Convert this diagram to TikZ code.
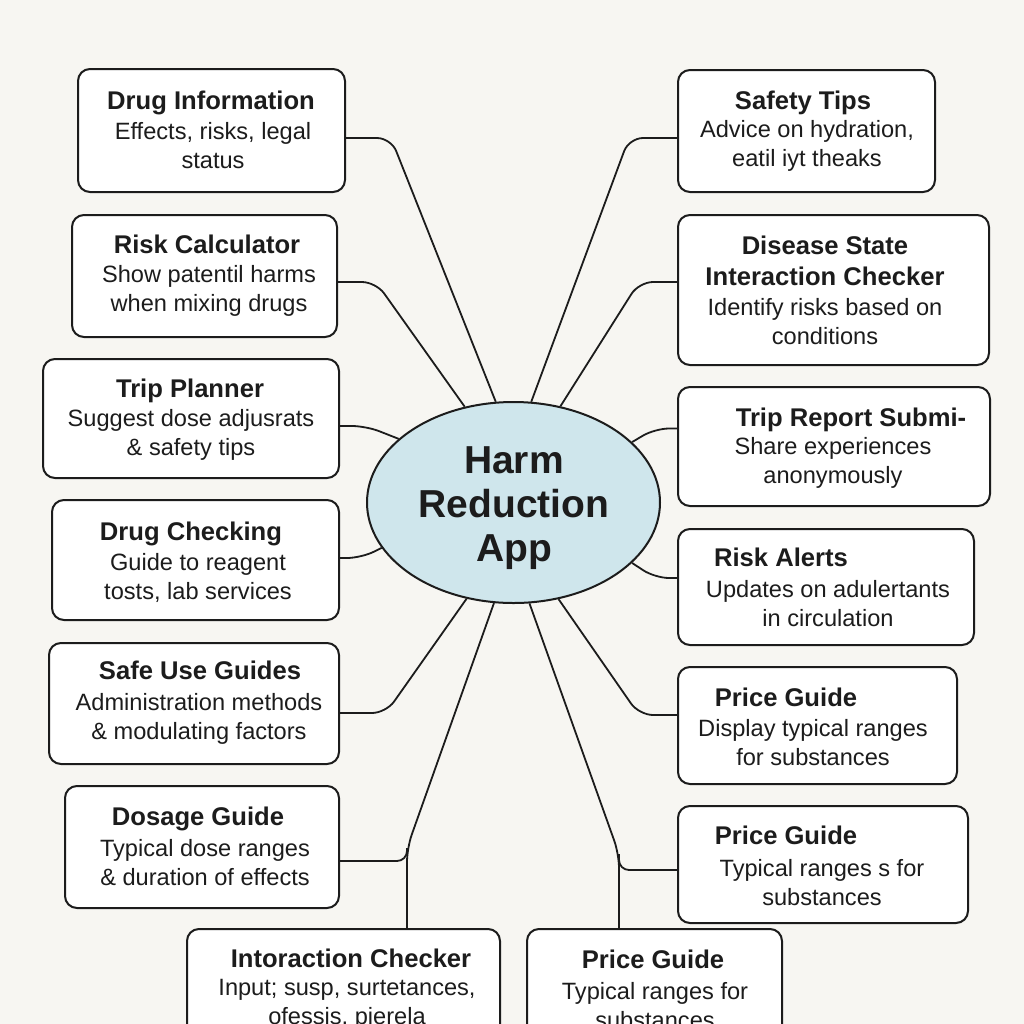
\documentclass[tikz,border=0pt]{standalone}
\usepackage{fontspec}
\setmainfont{Liberation Sans}
\usetikzlibrary{shapes.geometric,fit}
\definecolor{bg}{HTML}{F7F6F2}
\definecolor{ink}{HTML}{1C1C1C}
\definecolor{hubfill}{HTML}{CFE6EC}
\begin{document}
\begin{tikzpicture}[x=0.5pt,y=-0.5pt,
  box/.style={draw=ink, line width=1pt, fill=white, rounded corners=6pt, inner sep=0pt},
  ttl/.style={font=\bfseries\fontsize{12.8}{15.5}\selectfont, text=ink, inner sep=0pt, align=center, text depth=0pt},
  dsc/.style={font=\fontsize{11.8}{14.5}\selectfont, text=ink, align=center, inner sep=0pt},
  conn/.style={draw=ink, line width=0.9pt, rounded corners=7pt},
  hubnode/.style={ellipse, draw=ink, line width=1pt, fill=hubfill, minimum width=146.5pt, minimum height=100.5pt, inner sep=0pt},
  hubtext/.style={align=center, text=ink, inner sep=0pt, font=\bfseries\fontsize{19.5}{22}\selectfont}]
\fill[bg] (0,0) rectangle (1024,1024);
\useasboundingbox (0,0) rectangle (1024,1024);
\clip (0,0) rectangle (1024,1024);

% hub
\node[hubnode] (hub) at (513.5,502.5) {};
\node[hubtext] (hubt) at (514,508) {Harm\\Reduction\\App};

% left column boxes
\node[box, fit={(78,69) (345,192)}] (b1) {};
\node[box, fit={(72,215) (337,337)}] (b2) {};
\node[box, fit={(43,359) (339,478)}] (b3) {};
\node[box, fit={(52,500) (339,620)}] (b4) {};
\node[box, fit={(49,643) (339,764)}] (b5) {};
\node[box, fit={(65,786) (339,908)}] (b6) {};
\node[box, fit={(187,929) (500,1060)}] (b7) {};
\node[box, fit={(527,929) (782,1060)}] (b8) {};
% right column boxes
\node[box, fit={(678,70) (935,192)}] (b9) {};
\node[box, fit={(678,215) (989,365)}] (b10) {};
\node[box, fit={(678,387) (990,506)}] (b11) {};
\node[box, fit={(678,529) (974,645)}] (b12) {};
\node[box, fit={(678,667) (957,784)}] (b13) {};
\node[box, fit={(678,806) (968,923)}] (b14) {};

% texts
\node[ttl] (t1) at (211,100) {Drug Information};
\node[dsc] (d1) at (213,146) {Effects, risks, legal\\status};
\node[ttl] (t2) at (207,244) {Risk Calculator};
\node[dsc] (d2) at (209,290.5) {Show patentil harms\\when mixing drugs};
\node[ttl] (t3) at (190,388) {Trip Planner};
\node[dsc] (d3) at (191,434.5) {Suggest dose adjusrats\\\& safety tips};
\node[ttl] (t4) at (191,531) {Drug Checking};
\node[dsc] (d4) at (198,577.5) {Guide to reagent\\tosts, lab services};
\node[ttl] (t5) at (200,670) {Safe Use Guides};
\node[dsc] (d5) at (199,718.5) {Administration methods\\\& modulating factors};
\node[ttl] (t6) at (198,816) {Dosage Guide};
\node[dsc] (d6) at (205,863) {Typical dose ranges\\\& duration of effects};
\node[ttl] (t7) at (351,958) {Intoraction Checker};
\node[dsc] (d7) at (347,1004) {Input; susp, surtetances,\\ofessis, pjerela};
\node[ttl] (t8) at (653,959) {Price Guide};
\node[dsc] (d8) at (655,1006) {Typical ranges for\\substances};
\node[ttl] (t9) at (803,100) {Safety Tips};
\node[dsc] (d9) at (807,146) {Advice on hydration,\\eatil iyt theaks};
\node[ttl] (t10) at (825,261) {Disease State\\Interaction Checker};
\node[dsc] (d10) at (825,321.5) {Identify risks based on\\conditions};
\node[ttl] (t11) at (851,417) {Trip Report Submi-};
\node[dsc] (d11) at (833,463) {Share experiences\\anonymously};
\node[ttl] (t12) at (781,557) {Risk Alerts};
\node[dsc] (d12) at (828,604) {Updates on adulertants\\in circulation};
\node[ttl] (t13) at (786,697) {Price Guide};
\node[dsc] (d13) at (813,742.5) {Display typical ranges\\for substances};
\node[ttl] (t14) at (786,835) {Price Guide};
\node[dsc] (d14) at (822,882.5) {Typical ranges s for\\substances};

% junctions
\coordinate (j1) at (407,848);
\coordinate (j2) at (619,854);

% connectors left
\draw[conn] ([yshift=-3.75pt]b1.east) -- ++(45,0) -- (hub.100);
\draw[conn] ([yshift=-3pt]b2.east) -- ++(38,0) -- (hub.117);
\draw[conn] ([yshift=-3.75pt]b3.east) -- ++(26,0) -- (hub.151);
\draw[conn] ([yshift=1pt]b4.east) -- ++(21,0) -- (hub.199);
\draw[conn] ([yshift=-4.75pt]b5.east) -- ++(46,0) -- (hub.244);
\draw[conn, rounded corners=5pt] ([yshift=-7pt]b6.east) -| (j1);
\draw[conn] (hub.259) -- (j1) -- (b7.north -| j1);
% connectors right
\draw[conn] ([yshift=-3.5pt]b9.west) -- ++(-48,0) -- (hub.80);
\draw[conn] ([yshift=4pt]b10.west) -- ++(-38,0) -- (hub.64);
\draw[conn] ([yshift=9pt]b11.west) -- ++(-22,0) -- (hub.27);
\draw[conn] ([yshift=4.5pt]b12.west) -- ++(-22,0) -- (hub.333);
\draw[conn] ([yshift=5.25pt]b13.west) -- ++(-38,0) -- (hub.295);
\draw[conn, rounded corners=5pt] ([yshift=-2.75pt]b14.west) -| (j2);
\draw[conn] (hub.279) -- (j2) -- (b8.north -| j2);
\end{tikzpicture}
\end{document}
